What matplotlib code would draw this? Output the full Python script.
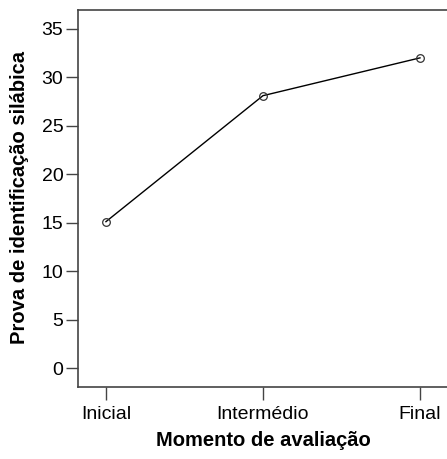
import matplotlib
matplotlib.use("Agg")
import matplotlib.pyplot as plt

# mean scores per assessment moment
momentos = ["Inicial", "Intermédio", "Final"]
media = [15.1, 28.1, 32.0]
yticks = [0, 5, 10, 15, 20, 25, 30, 35]

plt.rcParams['font.family'] = ['Liberation Sans', 'DejaVu Sans']

fig = plt.figure(figsize=(4.47, 4.59), dpi=100)
ax = fig.add_axes([78/447, 1 - 387/459, 1 - 78/447, 377/459])

xpos = list(range(len(momentos)))
ax.plot(xpos, media, color='black', lw=1.0, marker='o', markersize=5.5,
        markerfacecolor='none', markeredgecolor='#333333', markeredgewidth=0.9)

ax.set_xlim(-0.178, 2.172)
ax.set_ylim(-1.96, 36.94)
ax.set_xticks(xpos)
ax.set_xticklabels(momentos)
ax.set_yticks(yticks)

for s in ['left', 'bottom', 'top']:
    ax.spines[s].set_color('#444444')
    ax.spines[s].set_linewidth(1.2)
ax.spines['right'].set_visible(False)

ax.tick_params(axis='both', direction='out', length=9, width=1.0, color='#444444',
               labelsize=14, labelcolor='black')
ax.tick_params(axis='x', pad=5)
ax.tick_params(axis='y', pad=1.5)

ax.set_xlabel("Momento de avaliação", fontsize=14.5, fontweight='bold')
ax.set_ylabel("Prova de identificação silábica", fontsize=14.5, fontweight='bold')
ax.xaxis.set_label_coords((263 - 78) / 369, (387 - 441) / 377)
ax.yaxis.set_label_coords((20 - 78) / 369, (387 - 198) / 377)
ax.xaxis.label.set_va('center')
ax.yaxis.label.set_va('center')

fig.savefig("out.png", dpi=100)
